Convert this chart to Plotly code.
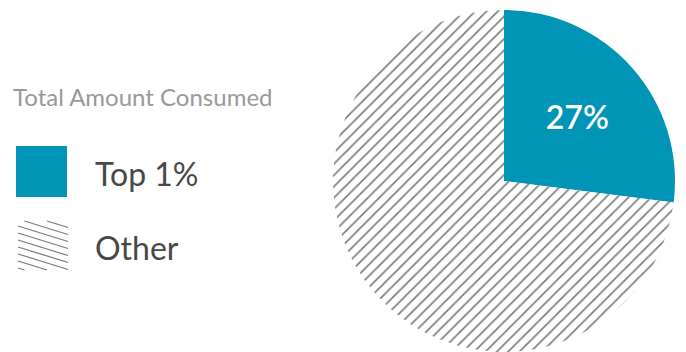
import plotly.graph_objects as go

labels = ["Top 1%", "Other"]
values = [27, 73]
colors = ["#0095B6", "#FFFFFF"]
patterns = ["", "/"]
legend_title = "Total Amount Consumed"

W, H = 686, 352
def px(x):
    return x / W
def py(y):
    return 1 - y / H

fig = go.Figure()
fig.add_trace(go.Pie(
    labels=labels, values=values, sort=False, direction="clockwise", rotation=0,
    marker=dict(colors=colors, line=dict(width=0),
                pattern=dict(shape=patterns, fgcolor="#7a7a7a", bgcolor=colors,
                             size=8, solidity=0.2)),
    texttemplate=["%{percent:.0%}", ""], textposition="inside",
    insidetextorientation="horizontal",
    insidetextfont=dict(family="Lato", size=32, color="white", weight=600),
    domain=dict(x=[333 / W, 675 / W], y=[0, 1 - 10 / H]),
    showlegend=False, hoverinfo="label+percent",
))

shapes = []
# legend swatch: Top 1%
shapes.append(dict(type="rect", xref="paper", yref="paper",
                   x0=px(16), x1=px(67), y0=py(197), y1=py(146),
                   fillcolor=colors[0], line=dict(width=0)))
# legend swatch: Other (hatched)
sx0, sx1, sy0, sy1 = 18, 68, 221, 270
slope = 0.31
off = -16
while off < (sy1 - sy0):
    xa, xb = sx0, sx1
    ya = sy0 + off
    yb = ya + slope * (sx1 - sx0)
    if ya < sy0:
        xa = sx0 + (sy0 - ya) / slope
        ya = sy0
    if yb > sy1:
        xb = sx0 + (sy1 - (sy0 + off)) / slope
        yb = sy1
    if xb > xa:
        shapes.append(dict(type="line", xref="paper", yref="paper",
                           x0=px(xa), x1=px(xb), y0=py(ya), y1=py(yb),
                           line=dict(color="#7a7a7a", width=1.3)))
    off += 7

annotations = [
    dict(text=legend_title, x=px(11), y=py(96), xref="paper", yref="paper",
         xanchor="left", yanchor="middle", showarrow=False,
         font=dict(family="Lato", size=24, color="#999999")),
    dict(text=labels[0], x=px(93), y=py(173), xref="paper", yref="paper",
         xanchor="left", yanchor="middle", showarrow=False,
         font=dict(family="Lato", size=32, color="#484848")),
    dict(text=labels[1], x=px(93), y=py(247), xref="paper", yref="paper",
         xanchor="left", yanchor="middle", showarrow=False,
         font=dict(family="Lato", size=32, color="#484848")),
]

fig.update_layout(width=W, height=H, margin=dict(l=0, r=0, t=0, b=0),
                  paper_bgcolor="white", plot_bgcolor="white",
                  shapes=shapes, annotations=annotations)
fig.write_html("out.html")
